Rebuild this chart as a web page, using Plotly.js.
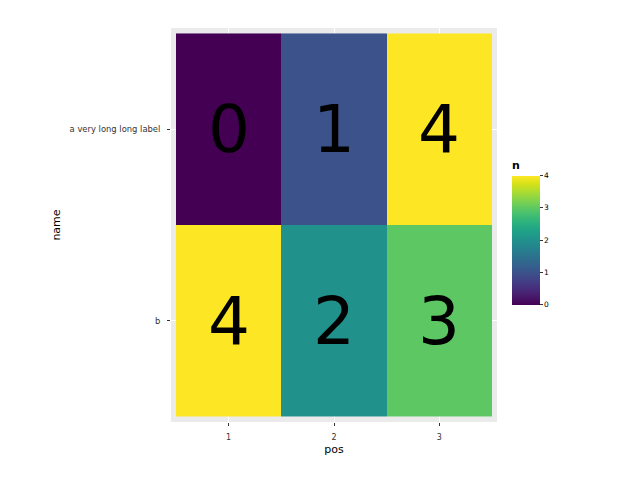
<!DOCTYPE html>
<html>
<head>
<meta charset="utf-8">
<script src="https://cdn.plot.ly/plotly-3.0.1.min.js"></script>
<style>html,body{margin:0;padding:0;background:#fff;}#chart{width:640px;height:480px;}</style>
</head>
<body>
<div id="chart"></div>
<script>
const positions = [1, 2, 3];
const names = ["b", "a very long long label"];
const valuesB = [4, 2, 3];
const valuesA = [0, 1, 4];

const trace = {
  type: "heatmap",
  x: positions,
  y: names,
  z: [valuesB, valuesA],
  zmin: 0,
  zmax: 4,
  colorscale: "Viridis",
  texttemplate: "%{z}",
  textfont: {family: "DejaVu Sans", size: 66, color: "#000000"},
  hoverinfo: "skip",
  colorbar: {
    title: {text: "<b>n</b>", side: "top", font: {family: "DejaVu Sans", size: 11, color: "#000"}},
    x: (512 - 171) / 326,
    xanchor: "left",
    y: (422 - 231) / 394,
    yanchor: "middle",
    thickness: 28,
    thicknessmode: "pixels",
    len: 147,
    lenmode: "pixels",
    outlinewidth: 0,
    xpad: 0,
    ypad: 0,
    ticks: "outside",
    ticklen: 3,
    tickwidth: 1,
    tickcolor: "#333333",
    tickvals: [0, 1, 2, 3, 4],
    tickfont: {family: "DejaVu Sans", size: 7.5, color: "#000"}
  }
};

const layout = {
  width: 640,
  height: 480,
  margin: {l: 171, r: 143, t: 28, b: 58},
  paper_bgcolor: "#ffffff",
  plot_bgcolor: "#EBEBEB",
  font: {family: "DejaVu Sans", color: "#000"},
  showlegend: false,
  xaxis: {
    type: "linear",
    range: [0.4525, 3.5475],
    tickvals: positions,
    ticktext: positions.map(String),
    ticks: "outside",
    ticklen: 3,
    tickcolor: "#333333",
    ticklabelstandoff: 4,
    tickfont: {size: 8, color: "#333333"},
    showgrid: true,
    gridcolor: "#ffffff",
    gridwidth: 1,
    zeroline: false,
    showline: false,
    title: {text: "pos", font: {size: 11, color: "#000"}, standoff: 4},
    automargin: false
  },
  yaxis: {
    type: "category",
    range: [-0.5285, 1.5285],
    ticks: "outside",
    ticklen: 3,
    tickcolor: "#333333",
    ticklabelstandoff: 5,
    tickfont: {size: 8.4, color: "#333333"},
    showgrid: true,
    gridcolor: "#ffffff",
    gridwidth: 1,
    zeroline: false,
    showline: false,
    title: {text: "name", font: {size: 11, color: "#000"}, standoff: 6},
    automargin: false
  }
};

Plotly.newPlot("chart", [trace], layout, {displayModeBar: false, staticPlot: true});
</script>
</body>
</html>
